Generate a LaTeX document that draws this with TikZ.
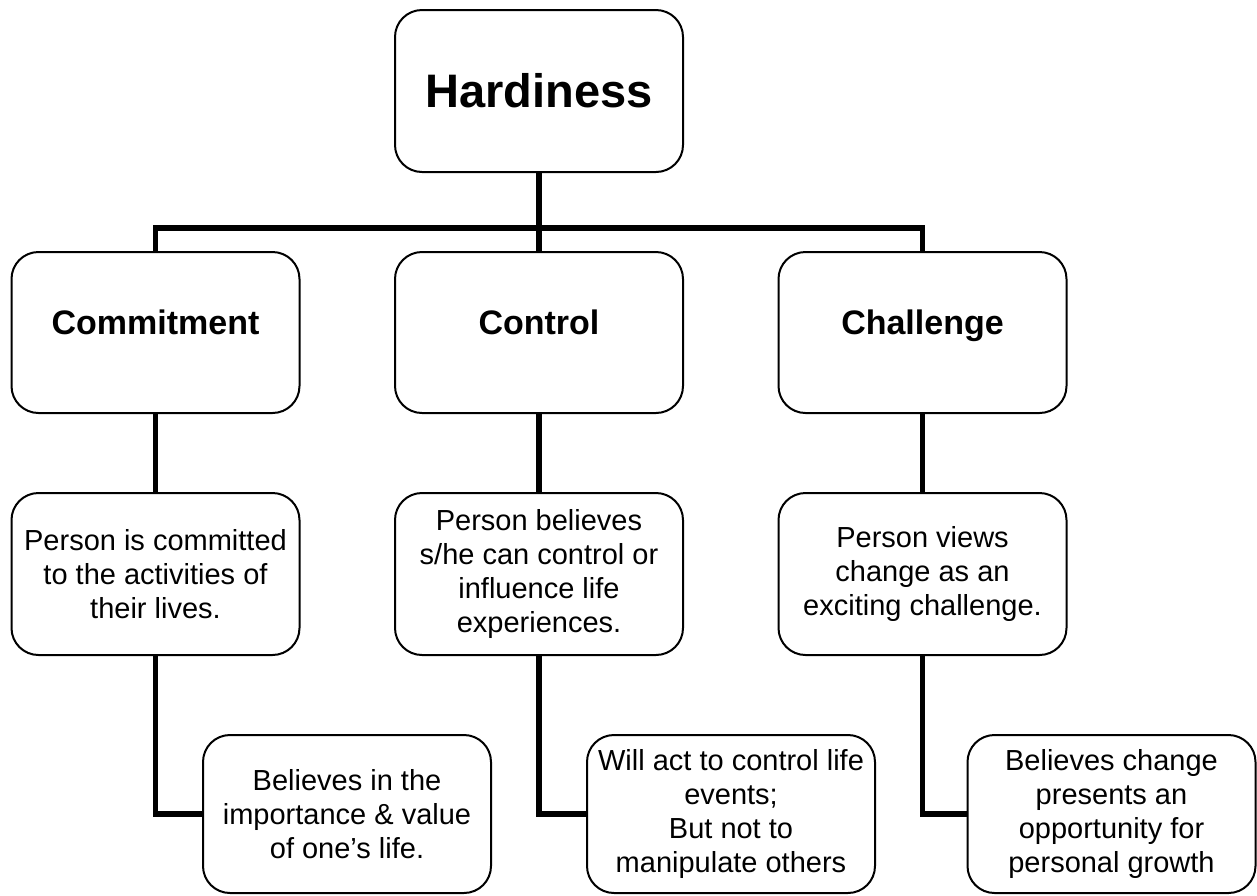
\documentclass[tikz,border=0pt]{standalone}
\usepackage{fontspec}
\setmainfont{Liberation Sans}
\begin{document}
\begin{tikzpicture}[x=1pt,y=-1pt,
  box/.style={draw, line width=2pt, rounded corners=27pt, fill=white, minimum width=288pt, inner sep=0pt, align=center},
  topbox/.style={box, minimum height=162pt, font=\bfseries\fontsize{47}{54}\selectfont},
  headbox/.style={box, minimum height=161pt, font=\bfseries\fontsize{34}{40}\selectfont, text depth=20pt},
  bodybox/.style={box, minimum height=162pt, font=\fontsize{29}{34}\selectfont},
  leafbox/.style={box, minimum height=158pt, font=\fontsize{29}{34}\selectfont},
  link/.style={line width=5.5pt}]
\useasboundingbox (0,0) rectangle (1257,895);
\node[topbox] (h) at (539,91) {Hardiness};
\node[headbox] (a1) at (155.5,332.5) {Commitment};
\node[headbox] (a2) at (539,332.5) {Control};
\node[headbox] (a3) at (922.5,332.5) {Challenge};
\node[bodybox] (b1) at (155.5,574) {Person is committed\\to the activities of\\their lives.};
\node[bodybox] (b2) at (539,574) {Person believes\\s/he can control or\\influence life\\experiences.};
\node[bodybox] (b3) at (922.5,574) {Person views\\change as an\\exciting challenge.};
\node[leafbox] (c1) at (347,814) {Believes in the\\importance \& value\\of one’s life.};
\node[leafbox] (c2) at (731,814) {Will act to control life\\events;\\But not to\\manipulate others};
\node[leafbox] (c3) at (1111.5,814) {Believes change\\presents an\\opportunity for\\personal growth};
\coordinate (bar) at (539,228);
\draw[link] (h.south) -- (a2.north);
\draw[link] (a1.north) |- (bar) -| (a3.north);
\draw[link] (a1.south) -- (b1.north);
\draw[link] (a2.south) -- (b2.north);
\draw[link] (a3.south) -- (b3.north);
\draw[link] (b1.south) |- (c1.west);
\draw[link] (b2.south) |- (c2.west);
\draw[link] (b3.south) |- (c3.west);
\end{tikzpicture}
\end{document}
